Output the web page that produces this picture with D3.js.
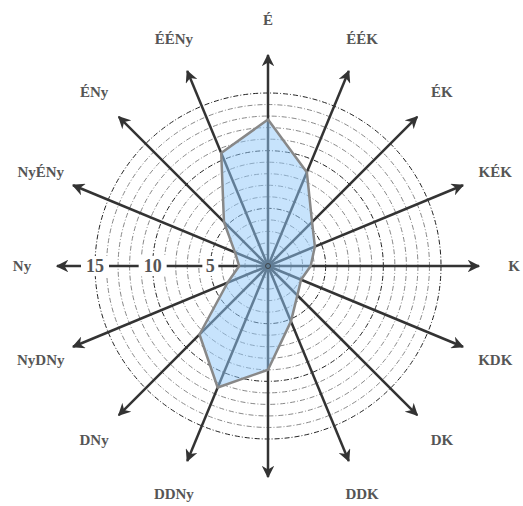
<!DOCTYPE html>
<html>
<head>
<meta charset="utf-8">
<script src="https://cdn.jsdelivr.net/npm/d3@7"></script>
<style>
  body { margin: 0; background: #fff; }
  svg { display: block; }
  text { font-family: "Liberation Serif", "Times New Roman", "DejaVu Serif", serif; font-weight: bold; }
</style>
</head>
<body>
<svg width="523" height="506"></svg>
<script>
// directions, clockwise from north
const directions = ["É", "ÉÉK", "ÉK", "KÉK", "K", "KDK", "DK", "DDK",
                    "D", "DDNy", "DNy", "NyDNy", "Ny", "NyÉNy", "ÉNy", "ÉÉNy"];
const values = [12.7, 8.8, 5.4, 4.4, 3.7, 3.1, 3.6, 5.2,
                9.0, 11.4, 8.4, 3.8, 2.5, 3.1, 5.4, 10.6];
const rings = d3.range(1, 16);
const tickLabels = [5, 10, 15];

const svg = d3.select("svg");
const cx = 268, cy = 266;

const r = d3.scaleLinear().domain([0, 15]).range([0, 173]);
const angle = d3.scaleLinear().domain([0, directions.length]).range([0, 2 * Math.PI]);

const g = svg.append("g").attr("transform", `translate(${cx},${cy})`);

svg.append("defs").append("marker")
  .attr("id", "arrow")
  .attr("viewBox", "0 0 10 10")
  .attr("refX", 9).attr("refY", 5)
  .attr("markerWidth", 5).attr("markerHeight", 5)
  .attr("markerUnits", "strokeWidth")
  .attr("orient", "auto")
  .append("path")
  .attr("d", "M0,0 L10,5 L0,10 L3,5 Z")
  .attr("fill", "#333");

// rings
g.selectAll(".ring")
  .data(rings)
  .enter()
  .append("circle")
  .attr("class", "ring")
  .attr("r", d => r(d))
  .attr("fill", "none")
  .attr("stroke", d => d % 5 === 0 ? "#222" : "#888")
  .attr("stroke-width", 1)
  .attr("stroke-dasharray", "5,2,1,2");

// axes
const axisLen = 211;
g.selectAll(".axis")
  .data(directions)
  .enter()
  .append("line")
  .attr("class", "axis")
  .attr("x1", 0).attr("y1", 0)
  .attr("x2", (d, i) => axisLen * Math.sin(angle(i)))
  .attr("y2", (d, i) => -axisLen * Math.cos(angle(i)))
  .attr("stroke", "#333")
  .attr("stroke-width", 2.5)
  .attr("marker-end", "url(#arrow)");

// data polygon
const radial = d3.lineRadial()
  .angle((d, i) => angle(i))
  .radius(d => r(d))
  .curve(d3.curveLinearClosed);

g.append("path")
  .datum(values)
  .attr("d", radial)
  .attr("fill", "rgb(143,200,249)")
  .attr("fill-opacity", 0.5)
  .attr("stroke", "#888")
  .attr("stroke-width", 2.5)
  .attr("stroke-linejoin", "round");

g.append("circle")
  .attr("r", 2.5)
  .attr("fill", "#5f7d96")
  .attr("stroke", "#333")
  .attr("stroke-width", 0.8);

// tick labels on the west axis
const ticks = g.selectAll(".tick")
  .data(tickLabels)
  .enter()
  .append("g")
  .attr("class", "tick")
  .attr("transform", d => `translate(${-r(d)},0)`);

ticks.append("rect")
  .attr("x", d => d >= 10 ? -14 : -8)
  .attr("y", -10)
  .attr("width", d => d >= 10 ? 28 : 16)
  .attr("height", 20)
  .attr("fill", "#fff");

ticks.append("text")
  .text(d => d)
  .attr("text-anchor", "middle")
  .attr("dy", "0.35em")
  .attr("font-size", 18)
  .attr("fill", "#555");

// direction labels
const labelR = 246;
g.selectAll(".dir")
  .data(directions)
  .enter()
  .append("text")
  .attr("class", "dir")
  .text(d => d)
  .attr("x", (d, i) => labelR * Math.sin(angle(i)))
  .attr("y", (d, i) => -labelR * Math.cos(angle(i)))
  .attr("text-anchor", "middle")
  .attr("dy", "0.35em")
  .attr("font-size", 15)
  .attr("fill", "#555");
</script>
</body>
</html>
